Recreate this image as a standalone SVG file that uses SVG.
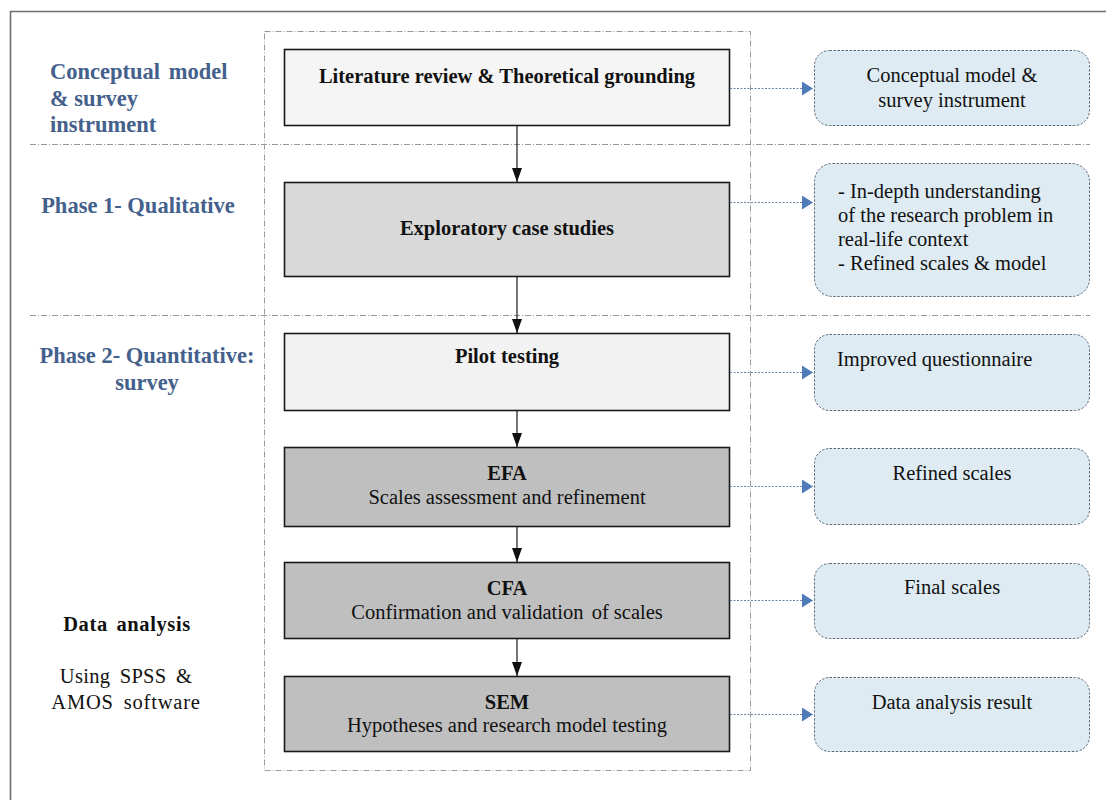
<svg xmlns="http://www.w3.org/2000/svg" width="1106" height="800" viewBox="0 0 1106 800">
  <defs>
    <style>
      .frame { fill: none; stroke: #6f6f6f; stroke-width: 1.6; }
      .dashdot { fill: none; stroke: #9a9a9a; stroke-width: 1; stroke-dasharray: 6 2 1 2; }
      .step { stroke: #1a1a1a; stroke-width: 1.6; }
      .out { fill: #deebf3; stroke: #5d6b7a; stroke-width: 1; stroke-dasharray: 2.5 1.5; }
      .flow { stroke: #1a1a1a; stroke-width: 1.2; fill: none; }
      .link { stroke: #6b84a6; stroke-width: 1; stroke-dasharray: 2 1.5; fill: none; }
      .phase { font-family: "Liberation Serif", "Times New Roman", serif; font-weight: bold; font-size: 22.5px; fill: #44608c; }
      .title { font-family: "Liberation Serif", "Times New Roman", serif; font-weight: bold; font-size: 20.5px; fill: #111; text-anchor: middle; }
      .sub { font-family: "Liberation Serif", "Times New Roman", serif; font-size: 20.5px; fill: #111; text-anchor: middle; }
      .note { font-family: "Liberation Serif", "Times New Roman", serif; font-size: 20.5px; fill: #111; }
    </style>
    <marker id="head" viewBox="0 0 14 10" refX="14" refY="5" markerWidth="14" markerHeight="10" markerUnits="userSpaceOnUse" orient="auto">
      <path d="M0,0 L14,5 L0,10 Z" fill="#111"/>
    </marker>
    <marker id="bluehead" viewBox="0 0 11 14" refX="11" refY="7" markerWidth="11" markerHeight="14" markerUnits="userSpaceOnUse" orient="auto">
      <path d="M0,0 L11,7 L0,14 Z" fill="#4f7cb8"/>
    </marker>
  </defs>

  <rect width="1106" height="800" fill="#ffffff"/>

  <!-- outer frame (top and left edges) -->
  <path class="frame" d="M10.5,800 V11.5 H1106"/>

  <!-- process container and phase separators -->
  <rect class="dashdot" x="264.5" y="31.5" width="486" height="739"/>
  <line class="dashdot" x1="30" y1="144.5" x2="1090" y2="144.5"/>
  <line class="dashdot" x1="30" y1="315.5" x2="1090" y2="315.5"/>

  <!-- phase labels -->
  <g id="label-conceptual">
    <text class="phase" x="50" y="79">Conceptual <tspan dx="3">model</tspan></text>
    <text class="phase" x="50" y="106">&amp; survey</text>
    <text class="phase" x="50" y="132">instrument</text>
  </g>
  <g id="label-phase1">
    <text class="phase" x="138" y="213" text-anchor="middle">Phase 1- Qualitative</text>
  </g>
  <g id="label-phase2">
    <text class="phase" x="147" y="363" text-anchor="middle">Phase 2- Quantitative:</text>
    <text class="phase" x="147" y="390" text-anchor="middle">survey</text>
  </g>
  <g id="label-analysis">
    <text class="title" x="127" y="631" font-size="22.5" letter-spacing="0.6" word-spacing="3">Data analysis</text>
    <text class="sub" x="126" y="683" font-size="22.5" letter-spacing="0.3" word-spacing="4">Using SPSS &amp;</text>
    <text class="sub" x="126" y="709" font-size="22.5" letter-spacing="0.8" word-spacing="4">AMOS software</text>
  </g>

  <!-- process steps -->
  <g id="step-literature">
    <rect class="step" x="284.5" y="49.5" width="445" height="76" fill="#f5f5f5"/>
    <text class="title" x="507" y="83">Literature review &amp; Theoretical grounding</text>
  </g>
  <g id="step-case-studies">
    <rect class="step" x="284.5" y="182.5" width="445" height="94" fill="#d9d9d9"/>
    <text class="title" x="507" y="235">Exploratory case studies</text>
  </g>
  <g id="step-pilot">
    <rect class="step" x="284.5" y="333.5" width="445" height="77" fill="#f2f2f2"/>
    <text class="title" x="507" y="363">Pilot testing</text>
  </g>
  <g id="step-efa">
    <rect class="step" x="284.5" y="447.5" width="445" height="79" fill="#bfbfbf"/>
    <text class="title" x="507" y="480" font-size="21">EFA</text>
    <text class="sub" x="507" y="504">Scales assessment and refinement</text>
  </g>
  <g id="step-cfa">
    <rect class="step" x="284.5" y="562.5" width="445" height="76" fill="#bfbfbf"/>
    <text class="title" x="507" y="595" font-size="21">CFA</text>
    <text class="sub" x="507" y="619">Confirmation and validation <tspan dx="3">of scales</tspan></text>
  </g>
  <g id="step-sem">
    <rect class="step" x="284.5" y="676.5" width="445" height="75" fill="#bfbfbf"/>
    <text class="title" x="507" y="709" font-size="21">SEM</text>
    <text class="sub" x="507" y="732">Hypotheses and research model testing</text>
  </g>

  <!-- outcomes -->
  <g id="out-conceptual">
    <rect class="out" x="814.5" y="50.5" width="275" height="75" rx="15"/>
    <text class="sub" x="952" y="82">Conceptual model &amp;</text>
    <text class="sub" x="952" y="107">survey instrument</text>
  </g>
  <g id="out-understanding">
    <rect class="out" x="814.5" y="163.5" width="275" height="133" rx="18"/>
    <text class="note" x="838" y="198">- In-depth understanding</text>
    <text class="note" x="838" y="222">of the research problem in</text>
    <text class="note" x="838" y="246">real-life context</text>
    <text class="note" x="838" y="270">- Refined scales &amp; model</text>
  </g>
  <g id="out-questionnaire">
    <rect class="out" x="814.5" y="334.5" width="275" height="76" rx="15"/>
    <text class="note" x="837" y="366">Improved questionnaire</text>
  </g>
  <g id="out-refined">
    <rect class="out" x="814.5" y="448.5" width="275" height="76" rx="15"/>
    <text class="sub" x="952" y="480">Refined scales</text>
  </g>
  <g id="out-final">
    <rect class="out" x="814.5" y="563.5" width="275" height="75" rx="15"/>
    <text class="sub" x="952" y="594">Final scales</text>
  </g>
  <g id="out-result">
    <rect class="out" x="814.5" y="677.5" width="275" height="74" rx="15"/>
    <text class="sub" x="952" y="709">Data analysis result</text>
  </g>

  <!-- connectors -->
  <g id="connectors">
    <line class="flow" x1="517" y1="126" x2="517" y2="182" marker-end="url(#head)"/>
    <line class="flow" x1="517" y1="277" x2="517" y2="333" marker-end="url(#head)"/>
    <line class="flow" x1="517" y1="411" x2="517" y2="447" marker-end="url(#head)"/>
    <line class="flow" x1="517" y1="527" x2="517" y2="562" marker-end="url(#head)"/>
    <line class="flow" x1="517" y1="639" x2="517" y2="676" marker-end="url(#head)"/>

    <line class="link" x1="730" y1="88.5" x2="813" y2="88.5" marker-end="url(#bluehead)"/>
    <line class="link" x1="730" y1="202.5" x2="813" y2="202.5" marker-end="url(#bluehead)"/>
    <line class="link" x1="730" y1="372.5" x2="813" y2="372.5" marker-end="url(#bluehead)"/>
    <line class="link" x1="730" y1="486.5" x2="813" y2="486.5" marker-end="url(#bluehead)"/>
    <line class="link" x1="730" y1="600.5" x2="813" y2="600.5" marker-end="url(#bluehead)"/>
    <line class="link" x1="730" y1="714.5" x2="813" y2="714.5" marker-end="url(#bluehead)"/>
  </g>
</svg>
